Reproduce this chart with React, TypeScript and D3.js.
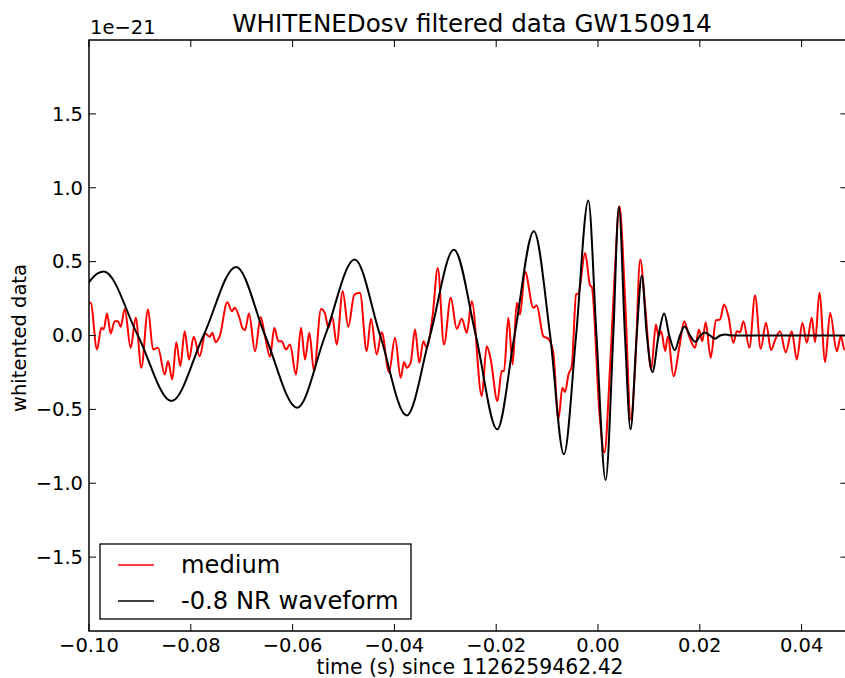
import React from "react";
import * as d3 from "d3";

// ---- data (seconds since 1126259462.42, strain in units of 1e-21) ----
const redTimes = [
  -0.10200, -0.09967, -0.09843, -0.09758, -0.09711, -0.09646, -0.09574, -0.09495, -0.09430, -0.09377,
  -0.09298, -0.09181, -0.09082, -0.08972, -0.08841, -0.08742, -0.08644, -0.08512, -0.08448, -0.08363,
  -0.08285, -0.08206, -0.08120, -0.08035, -0.07943, -0.07825, -0.07715, -0.07629, -0.07578, -0.07511,
  -0.07432, -0.07283, -0.07191, -0.07138, -0.07039, -0.06988, -0.06935, -0.06857, -0.06738, -0.06627,
  -0.06542, -0.06444, -0.06359, -0.06280, -0.06214, -0.06130, -0.06051, -0.05933, -0.05835, -0.05756,
  -0.05671, -0.05579, -0.05442, -0.05363, -0.05298, -0.05220, -0.05134, -0.05016, -0.04906, -0.04788,
  -0.04676, -0.04544, -0.04460, -0.04348, -0.04250, -0.04106, -0.03988, -0.03876, -0.03811, -0.03758,
  -0.03680, -0.03595, -0.03510, -0.03431, -0.03365, -0.03247, -0.03148, -0.03025, -0.02893, -0.02775,
  -0.02676, -0.02578, -0.02480, -0.02284, -0.02186, -0.02107, -0.01977, -0.01891, -0.01846, -0.01762,
  -0.01676, -0.01597, -0.01532, -0.01434, -0.01271, -0.01204, -0.01074, -0.00976, -0.00878, -0.00778,
  -0.00700, -0.00647, -0.00581, -0.00515, -0.00430, -0.00384, -0.00253, -0.00155, -0.00122, 0.00028,
  0.00126, 0.00238, 0.00336, 0.00421, 0.00533, 0.00644, 0.00731, 0.00829, 0.00927, 0.01045,
  0.01138, 0.01189, 0.01242, 0.01320, 0.01373, 0.01483, 0.01601, 0.01694, 0.01778, 0.01906,
  0.01984, 0.02049, 0.02116, 0.02214, 0.02318, 0.02397, 0.02475, 0.02562, 0.02660, 0.02727,
  0.02792, 0.02857, 0.02974, 0.03086, 0.03197, 0.03301, 0.03399, 0.03478, 0.03576, 0.03688,
  0.03806, 0.03906, 0.04016, 0.04102, 0.04200, 0.04265, 0.04350, 0.04462, 0.04560, 0.04692,
  0.04771, 0.04842, 0.04950,
];
const redValues = [
  0.05, 0.221, -0.095, 0.052, 0.041, 0.149, 0.014, 0.097, 0.097, 0.059,
  0.180, -0.083, 0.120, -0.218, 0.176, -0.095, -0.083, -0.264, -0.174, -0.297,
  -0.045, -0.207, 0.029, -0.162, -0.009, -0.140, 0.014, -0.009, 0.018, -0.045,
  -0.005, 0.225, 0.164, 0.187, 0.113, 0.052, 0.036, 0.149, -0.106, 0.126,
  -0.005, -0.144, 0.052, -0.039, -0.039, -0.095, -0.061, -0.264, 0.052, -0.162,
  0.018, -0.241, 0.180, 0.149, 0.052, 0.126, -0.061, 0.299, 0.059, 0.277,
  0.289, -0.106, 0.113, -0.128, 0.022, -0.248, -0.016, -0.286, -0.180, -0.218,
  -0.184, 0.041, -0.184, -0.039, -0.083, 0.142, 0.457, -0.061, 0.255, 0.045,
  0.113, 0.018, 0.232, -0.410, -0.072, -0.162, -0.444, -0.241, -0.241, 0.120,
  -0.196, 0.221, 0.142, 0.434, 0.187, 0.203, -0.005, -0.022, -0.117, -0.568,
  -0.353, -0.383, -0.264, -0.207, 0.277, 0.284, 0.559, 0.338, 0.329, -0.522,
  -0.793, -0.207, 0.468, 0.874, 0.243, -0.568, -0.207, 0.514, 0.198, -0.230,
  0.074, -0.005, 0.029, -0.106, -0.005, -0.275, -0.072, 0.097, 0.007, -0.083,
  0.041, -0.039, 0.090, -0.151, 0.103, 0.108, 0.209, 0.130, -0.049, 0.029,
  0.022, 0.097, -0.083, 0.270, -0.090, 0.086, -0.099, -0.032, 0.029, -0.113,
  0.029, -0.162, 0.086, -0.049, 0.120, -0.045, 0.289, -0.180, 0.153, -0.106,
  -0.005, -0.095, 0.02,
];

const nrTimes = [
  -0.1020, -0.1000, -0.0971, -0.0904, -0.0838, -0.0775, -0.0711, -0.0654, -0.0591, -0.0536,
  -0.0478, -0.0428, -0.0376, -0.0330, -0.0283, -0.0240, -0.0198, -0.0164, -0.0126, -0.0094,
  -0.0067, -0.0043, -0.0019, -0.0003, 0.0015, 0.0030, 0.0041, 0.0053, 0.0064, 0.0076,
  0.0086, 0.0096, 0.0107, 0.0119, 0.0130, 0.0140, 0.0151, 0.0161, 0.0170, 0.0181,
  0.0191, 0.0201, 0.0210, 0.0220, 0.0230, 0.0240, 0.0251, 0.0262, 0.0500,
];
const nrValues = [
  0.20, 0.36, 0.434, 0, -0.444, 0, 0.464, 0, -0.489, 0,
  0.514, 0, -0.541, 0, 0.581, 0, -0.635, 0, 0.705, 0,
  -0.804, 0, 0.914, 0, -0.978, 0, 0.87, 0, -0.635, 0,
  0.405, 0, -0.248, 0, 0.149, 0, -0.099, 0, 0.061, 0,
  -0.043, 0, 0.02, 0, -0.022, 0, 0.007, 0, 0,
];

const xTicks = [-0.1, -0.08, -0.06, -0.04, -0.02, 0.0, 0.02, 0.04];
const yTicks = [-1.5, -1.0, -0.5, 0.0, 0.5, 1.0, 1.5];
const legendLabels = ["medium", "-0.8 NR waveform"];
const seriesColors = ["#ff0000", "#000000"];

const W = 845;
const H = 678;
const FONT = "DejaVu Sans, sans-serif";

export default function App() {
  const left = 89;
  const top = 40;
  const bottom = 631;
  const x = d3.scaleLinear().domain([-0.1, 0.049]).range([left, left + 0.149 * 5090]);
  const y = d3.scaleLinear().domain([-2, 2]).range([bottom, top]);
  const right = x(0.049);

  const line = d3
    .line<[number, number]>()
    .x((d) => x(d[0]))
    .y((d) => y(d[1]))
    .curve(d3.curveMonotoneX);

  const redData: [number, number][] = redTimes.map((t, i) => [t, redValues[i]]);
  const nrData: [number, number][] = nrTimes.map((t, i) => [t, nrValues[i]]);

  const fmtX = (v: number) => {
    const s = Math.abs(v).toFixed(2);
    return (v < -1e-9 ? "\u2212" : "") + s;
  };
  const fmtY = (v: number) => {
    const s = Math.abs(v).toFixed(1);
    return (v < -1e-9 ? "\u2212" : "") + s;
  };

  const tickLen = 7;

  return (
    <div style={{ position: "fixed", left: 0, top: 0, width: W, height: H, background: "#fff" }}>
      <svg width={W} height={H} style={{ display: "block", fontFamily: FONT }}>
        <rect x={0} y={0} width={W} height={H} fill="#fff" />
        <defs>
          <clipPath id="plotclip">
            <rect x={left} y={top} width={right - left} height={bottom - top} />
          </clipPath>
        </defs>

        <g clipPath="url(#plotclip)">
          <path d={line(redData) || ""} fill="none" stroke={seriesColors[0]} strokeWidth={2} strokeLinejoin="round" />
          <path d={line(nrData) || ""} fill="none" stroke={seriesColors[1]} strokeWidth={2} strokeLinejoin="round" />
        </g>

        {/* spines */}
        <rect x={left} y={top} width={right - left} height={bottom - top} fill="none" stroke="#000" strokeWidth={1.5} />

        {/* x ticks */}
        {xTicks.map((t) => (
          <g key={"xt" + t}>
            <line x1={x(t)} x2={x(t)} y1={bottom} y2={bottom - tickLen} stroke="#000" strokeWidth={1} />
            <line x1={x(t)} x2={x(t)} y1={top} y2={top + tickLen} stroke="#000" strokeWidth={1} />
            <text x={x(t)} y={652} textAnchor="middle" fontSize={19.5} fill="#000">
              {fmtX(t)}
            </text>
          </g>
        ))}

        {/* y ticks */}
        {yTicks.map((v) => (
          <g key={"yt" + v}>
            <line x1={left} x2={left + tickLen} y1={y(v)} y2={y(v)} stroke="#000" strokeWidth={1} />
            <line x1={right} x2={right - tickLen} y1={y(v)} y2={y(v)} stroke="#000" strokeWidth={1} />
            <text x={83} y={y(v)} dy="0.35em" textAnchor="end" fontSize={19.5} fill="#000">
              {fmtY(v)}
            </text>
          </g>
        ))}

        {/* offset text */}
        <text x={90} y={34} fontSize={19.5} fill="#000">1e{"\u2212"}21</text>

        {/* title */}
        <text x={472} y={32} textAnchor="middle" fontSize={24.6} fill="#000">
          WHITENEDosv filtered data GW150914
        </text>

        {/* axis labels */}
        <text x={470} y={674} textAnchor="middle" fontSize={20.4} fill="#000">
          time (s) since 1126259462.42
        </text>
        <text transform="translate(26,338) rotate(-90)" textAnchor="middle" fontSize={19.5} fill="#000">
          whitented data
        </text>

        {/* legend */}
        <rect x={100} y={544} width={311} height={75} fill="#fff" stroke="#000" strokeWidth={1.3} />
        {legendLabels.map((lab, i) => (
          <g key={lab}>
            <line x1={118} x2={154} y1={565 + i * 36} y2={565 + i * 36} stroke={seriesColors[i]} strokeWidth={1.5} />
            <text x={181} y={573 + i * 36} fontSize={24.2} fill="#000">
              {lab}
            </text>
          </g>
        ))}
      </svg>
    </div>
  );
}
